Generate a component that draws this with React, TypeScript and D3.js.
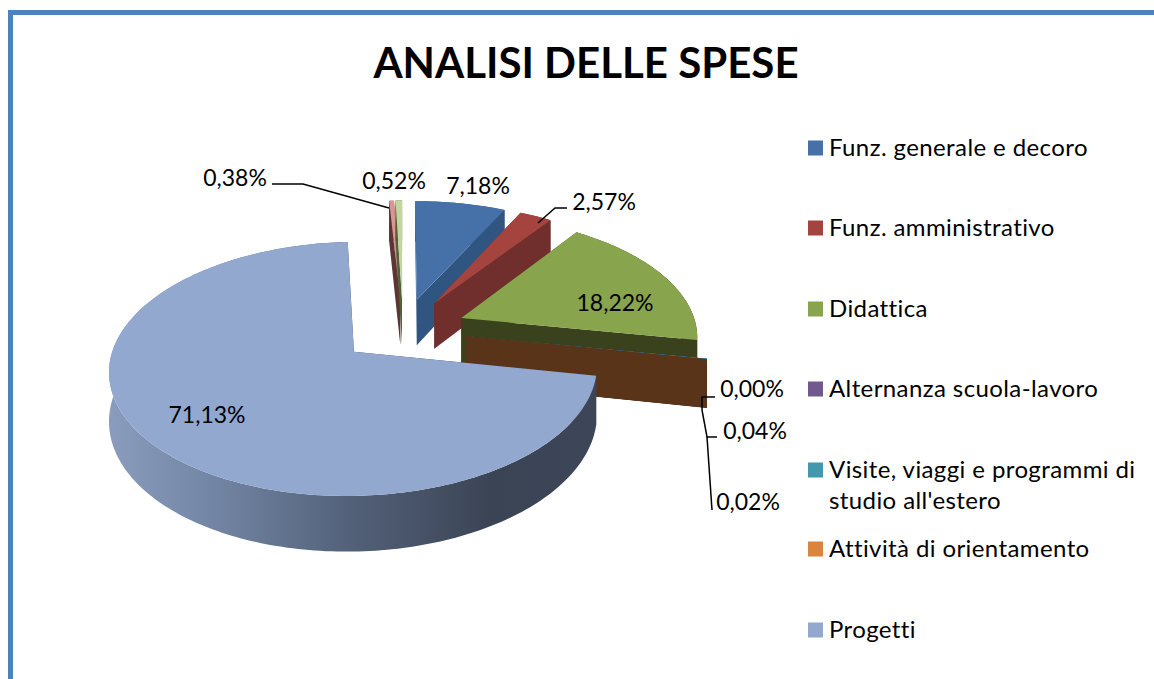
import React from "react";
import * as d3 from "d3";

const categories = [
  "Funz. generale e decoro",
  "Funz. amministrativo",
  "Didattica",
  "Alternanza scuola-lavoro",
  "Visite, viaggi e programmi di|studio all'estero",
  "Attività di orientamento",
  "Progetti",
  "",
  "",
];
const values = [7.18, 2.57, 18.22, 0.0, 0.04, 0.02, 71.13, 0.38, 0.52];
const topColors = ["#4571a8", "#a5433f", "#88a44d", "#71588f", "#4198af", "#db843d", "#92a8cf", "#d99694", "#c3d69b"];
const wallColors = ["#2f5580", "#702f2d", "#3a421d", "#4a3560", "#2a6070", "#5a3418", "#3c4556", "#5e3535", "#55603a"];

const labelX = [478, 604, 615, 752, 755, 748, 207, 235, 394];
const labelY = [194, 210, 311, 397, 439, 510, 423, 186, 189];
const legendY = [148, 228, 309, 389, 470, 549, 630];
const leaders = [
  [[538, 223], [555, 208], [567, 208]],
  [[715, 397], [702, 397], [702, 410]],
  [[717, 437], [707, 437], [702, 410]],
  [[712, 510], [707, 437]],
  [[272, 184], [303, 184], [389, 208]],
];

const W = 1154, H = 679;
const cx = 403, cy = 330, Rx = 236, Ry = 119, persp = 0.132, explode = 0.27, depth = 47;
const FONT = "Lato, Carlito, Calibri, sans-serif";

const arcs = d3.pie<number>().sort(null).startAngle(0).endAngle(2 * Math.PI).value((d) => d)(values);
const xs = d3.scaleLinear().domain([0, 1]).range([0, Rx]);
const zs = d3.scaleLinear().domain([0, 1]).range([0, Ry]);
const pathOf = d3.line<[number, number]>().x((d) => d[0]).y((d) => d[1]);

function project(X: number, Z: number, down = 0): [number, number] {
  const s = 1 / (1 - persp * Z);
  return [cx + xs(X) * s, cy + zs(Z) * s + down * s];
}

function sliceGeometry(a0: number, a1: number) {
  const mid = (a0 + a1) / 2;
  const ox = explode * Math.sin(mid), oz = -explode * Math.cos(mid);
  const n = Math.max(2, Math.ceil((a1 - a0) / 0.02));
  const angles = d3.range(n + 1).map((i) => a0 + ((a1 - a0) * i) / n);
  const rim = (down: number) => angles.map((a) => project(ox + Math.sin(a), oz - Math.cos(a), down));
  const apex = (down: number) => project(ox, oz, down);
  const topFace = pathOf([apex(0), ...rim(0)]) + "Z";
  const wall = pathOf([...rim(0), ...rim(depth).reverse()]) + "Z";
  const r0 = rim(0), rd = rim(depth);
  const startFace = pathOf([apex(0), r0[0], rd[0], apex(depth)]) + "Z";
  const endFace = pathOf([apex(0), r0[n], rd[n], apex(depth)]) + "Z";
  return { topFace, wall, startFace, endFace };
}

const paintOrder = [7, 8, 0, 1, 2, 3, 4, 5, 6];
const pct = (v: number) => v.toFixed(2).replace(".", ",") + "%";

export default function App() {
  return (
    <svg width={W} height={H} style={{ position: "absolute", left: 0, top: 0, background: "#fff" }} fontFamily={FONT}>
      <defs>
        <linearGradient id="wallGrad" gradientUnits="userSpaceOnUse" x1="107" y1="0" x2="600" y2="0">
          <stop offset="0" stopColor="#8a9dbe" />
          <stop offset="0.25" stopColor="#6f819f" />
          <stop offset="0.5" stopColor="#526078" />
          <stop offset="0.78" stopColor="#3b4455" />
          <stop offset="1" stopColor="#3d4658" />
        </linearGradient>
      </defs>
      <path d={`M10.5 ${H}V12.5H${W}`} fill="none" stroke="#4f81bd" strokeWidth={5} />
      <text x={586} y={78} textAnchor="middle" fontSize={42} fontWeight={700} fill="#000">ANALISI DELLE SPESE</text>

      {paintOrder.map((i) => {
        const g = sliceGeometry(arcs[i].startAngle, arcs[i].endAngle);
        const w = i === 6 ? "url(#wallGrad)" : wallColors[i];
        return (
          <g key={i}>
            <path d={g.startFace} fill={wallColors[i]} />
            <path d={g.endFace} fill={wallColors[i]} />
            <path d={g.wall} fill={w} />
            <path d={g.topFace} fill={topColors[i]} />
          </g>
        );
      })}

      {leaders.map((pts, i) => (
        <path key={i} d={pathOf(pts as [number, number][]) as string} fill="none" stroke="#000" strokeWidth={1.5} />
      ))}

      {values.map((v, i) => (
        <text key={i} x={labelX[i]} y={labelY[i]} textAnchor="middle" fontSize={23} fill="#000">{pct(v)}</text>
      ))}

      {legendY.map((y, i) => {
        const lines = categories[i].split("|");
        return (
          <g key={i}>
            <rect x={808} y={y - 7.5} width={15} height={15} fill={topColors[i]} />
            {lines.map((t, j) => (
              <text key={j} x={829} y={y + 8 + (j * 31)} fontSize={24} letterSpacing={0.4} fill="#000">{t}</text>
            ))}
          </g>
        );
      })}
    </svg>
  );
}
